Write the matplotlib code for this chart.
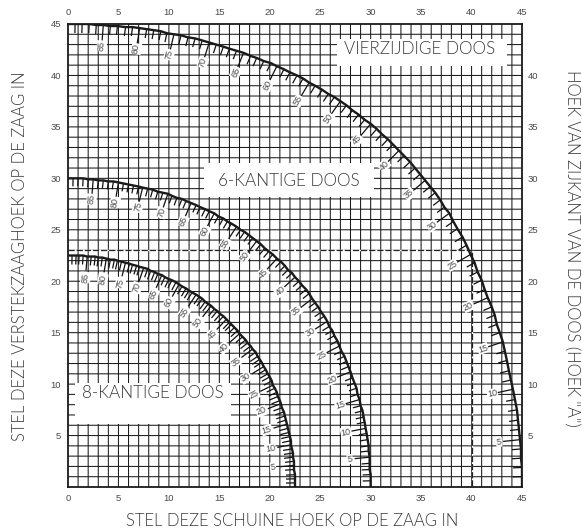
import matplotlib
matplotlib.use('Agg')
import matplotlib.pyplot as plt
from matplotlib.collections import LineCollection
from matplotlib.patches import Rectangle
import math

# tick positions for side angle 0..90, one per degree (estimates)
x_four = [45.0,45.0,45.0,44.9,44.9,44.8,44.7,44.6,44.5,44.3,44.1,43.9,43.7,43.5,43.3,43.1,42.8,42.5,42.3,42.0,41.6,
          41.3,41.0,40.6,40.3,39.9,39.5,39.1,38.6,38.2,37.8,37.3,36.9,36.4,35.9,35.4,34.9,34.4,33.9,33.3,32.8,
          32.2,31.7,31.1,30.6,30.0,29.4,28.8,28.2,27.6,27.0,26.4,25.8,25.2,24.5,23.9,23.3,22.7,22.0,21.4,20.7,
          20.1,19.4,18.7,18.1,17.4,16.7,16.0,15.4,14.7,14.0,13.3,12.6,11.9,11.2,10.5,9.8,9.2,8.5,7.8,7.1,
          6.4,5.7,4.9,4.2,3.5,2.8,2.1,1.4,0.7,0.0]
y_four = [0.0,1.0,1.9,2.8,3.7,4.6,5.6,6.5,7.5,8.5,9.5,10.4,11.3,12.3,13.2,14.1,15.0,15.8,16.7,17.5,18.4,
          19.2,20.1,20.9,21.8,22.6,23.5,24.3,25.1,25.8,26.6,27.2,27.9,28.6,29.2,29.8,30.4,31.0,31.6,32.2,32.7,
          33.3,33.8,34.3,34.8,35.3,35.7,36.2,36.6,37.1,37.5,37.9,38.2,38.6,39.0,39.3,39.7,40.0,40.3,40.6,40.9,
          41.2,41.4,41.7,41.9,42.2,42.4,42.6,42.8,43.0,43.2,43.4,43.6,43.7,43.9,44.0,44.1,44.3,44.4,44.5,44.6,
          44.7,44.7,44.8,44.8,44.9,44.9,45.0,45.0,45.0,45.0]
x_six = [30.0,30.0,30.0,29.9,29.9,29.9,29.8,29.8,29.7,29.6,29.5,29.4,29.3,29.2,29.0,28.9,28.7,28.6,28.4,28.2,28.0,
         27.8,27.6,27.4,27.1,26.9,26.7,26.4,26.2,25.9,25.7,25.4,25.1,24.8,24.5,24.2,23.9,23.6,23.2,22.9,22.5,
         22.2,21.8,21.5,21.1,20.7,20.3,19.9,19.5,19.1,18.7,18.3,17.9,17.5,17.1,16.7,16.2,15.8,15.4,14.9,14.5,
         14.0,13.6,13.1,12.7,12.2,11.7,11.3,10.8,10.3,9.9,9.4,8.9,8.4,7.9,7.4,7.0,6.5,6.0,5.5,5.0,
         4.5,4.0,3.5,3.0,2.5,2.0,1.5,1.0,0.5,0.0]
y_six = [0.0,0.6,1.2,1.7,2.3,2.9,3.5,4.0,4.6,5.2,5.7,6.3,6.8,7.4,7.9,8.5,9.0,9.6,10.1,10.6,11.2,
         11.7,12.2,12.7,13.2,13.7,14.2,14.7,15.2,15.6,16.1,16.6,17.0,17.5,17.9,18.3,18.8,19.2,19.6,20.0,20.4,
         20.8,21.1,21.5,21.9,22.2,22.6,22.9,23.2,23.6,23.9,24.2,24.5,24.8,25.0,25.3,25.6,25.8,26.1,26.3,26.6,
         26.8,27.0,27.2,27.4,27.6,27.8,28.0,28.1,28.3,28.5,28.6,28.7,28.9,29.0,29.1,29.2,29.3,29.4,29.5,29.6,
         29.7,29.7,29.8,29.8,29.9,29.9,30.0,30.0,30.0,30.0]
x_eight = [22.5,22.5,22.5,22.5,22.4,22.4,22.4,22.3,22.3,22.2,22.1,22.1,22.0,21.9,21.8,21.7,21.6,21.5,21.4,21.2,21.1,
           21.0,20.8,20.7,20.5,20.3,20.2,20.0,19.8,19.6,19.4,19.2,19.0,18.8,18.6,18.3,18.1,17.8,17.6,17.3,17.0,
           16.8,16.5,16.2,16.0,15.7,15.4,15.1,14.8,14.5,14.2,13.9,13.6,13.3,13.0,12.7,12.3,12.0,11.7,11.3,11.0,
           10.7,10.3,10.0,9.6,9.3,8.9,8.6,8.2,7.9,7.5,7.1,6.8,6.4,6.1,5.7,5.3,4.9,4.6,4.2,3.8,
           3.4,3.0,2.7,2.3,1.9,1.5,1.1,0.8,0.4,0.0]
y_eight = [0.0,0.4,0.8,1.2,1.7,2.1,2.5,2.9,3.3,3.7,4.1,4.5,4.9,5.3,5.7,6.1,6.5,6.9,7.3,7.7,8.1,
           8.4,8.8,9.2,9.6,9.9,10.3,10.7,11.0,11.4,11.7,12.1,12.4,12.7,13.1,13.4,13.7,14.0,14.3,14.6,14.9,
           15.2,15.5,15.8,16.0,16.3,16.6,16.8,17.1,17.3,17.6,17.8,18.0,18.3,18.5,18.7,18.9,19.1,19.3,19.5,19.7,
           19.9,20.1,20.2,20.4,20.6,20.7,20.9,21.0,21.2,21.3,21.4,21.5,21.6,21.7,21.8,21.9,22.0,22.1,22.1,22.2,
           22.3,22.3,22.4,22.4,22.4,22.5,22.5,22.5,22.5,22.5]
axis_ticks = [0, 5, 10, 15, 20, 25, 30, 35, 40, 45]
left_ticks = [5, 10, 15, 20, 25, 30, 35, 40, 45]
right_ticks = [5, 10, 15, 20, 25, 30, 35, 40]
dash_x = [0, 40, 40]
dash_y = [23.05, 23.05, 0]

W, H = 582, 531
L, R, T, B = 68, 522, 24, 487
grey = '#4a4a4a'
fig = plt.figure(figsize=(W/100, H/100), dpi=100)
ax = fig.add_axes([L/W, 1-B/H, (R-L)/W, (B-T)/H])
ax.set_xlim(0, 45)
ax.set_ylim(0, 45)
sx = (R-L)/45
sy = (B-T)/45

# grid, one line per unit
for i in range(1, 45):
    ax.axvline(i, color='#1a1a1a', lw=0.75, snap=False, zorder=1)
    ax.axhline(i, color='#1a1a1a', lw=0.75, snap=False, zorder=1)

def white_box(x0, y0, x1, y1):
    ax.add_patch(Rectangle(((x0-L)/sx, (B-y1)/sy), (x1-x0)/sx, (y1-y0)/sy, fc='white', ec='none', zorder=2))

white_box(337, 39, 507, 66)
white_box(204, 163, 374, 197)
white_box(75, 383, 231, 424)

ax.plot(dash_x, dash_y, color='white', lw=1.0, zorder=3)
ax.plot(dash_x, dash_y, color='#222222', lw=0.9, dashes=(5, 1.5), zorder=3)

def draw_curve(xs, ys, short, long, lab):
    ax.plot(xs, ys, color='#1a1a1a', lw=1.7, zorder=5, solid_capstyle='butt')
    segs = []
    for a in range(1, 90):
        px, py = xs[a]*sx, ys[a]*sy
        r = math.hypot(px, py)
        n = long if a % 5 == 0 else short
        x2 = (px - n*px/r)/sx
        y2 = (py - n*py/r)/sy
        segs.append([(xs[a], ys[a]), (x2, y2)])
    ax.add_collection(LineCollection(segs, colors='#111111', linewidths=0.9, zorder=4))
    for a in range(5, 90, 5):
        px, py = xs[a]*sx, ys[a]*sy
        r = math.hypot(px, py)
        ang = math.degrees(math.atan2(py, px))
        ax.text((px - lab*px/r)/sx, (py - lab*py/r)/sy, str(a), fontsize=6.5, color=grey,
                family='Liberation Sans', rotation=ang, ha='center', va='center', rotation_mode='anchor',
                bbox=dict(fc='white', ec='none', pad=0.4), zorder=6)

draw_curve(x_four, y_four, 9, 17, 21)
draw_curve(x_six, y_six, 8, 15, 20)
draw_curve(x_eight, y_eight, 9, 14, 21)

for s in ax.spines.values():
    s.set_linewidth(1.3)
    s.set_color('#1a1a1a')
    s.set_zorder(7)

ax.set_xticks(axis_ticks)
ax.set_yticks(left_ticks)
ax.tick_params(axis='x', length=0, pad=5, labelsize=6.8, labelcolor=grey, top=False, labeltop=True, labelbottom=True)
ax.tick_params(axis='y', length=0, pad=5, labelsize=6.8, labelcolor=grey)
right = ax.twinx()
right.set_ylim(0, 45)
right.set_yticks(right_ticks)
right.tick_params(axis='y', length=0, pad=4, labelsize=6.8, labelcolor=grey)
for s in right.spines.values():
    s.set_visible(False)
for t in ax.get_xticklabels() + ax.get_yticklabels() + right.get_yticklabels():
    t.set_family('Liberation Sans')

big = dict(family='Lato', fontweight=300, color='#3a3a3a', ha='center', va='center')
fig.text(420/W, 1-49/H, 'VIERZIJDIGE DOOS', fontsize=12.3, **big)
fig.text(289/W, 1-181/H, '6-KANTIGE DOOS', fontsize=12.3, **big)
fig.text(153/W, 1-393/H, '8-KANTIGE DOOS', fontsize=12.3, **big)
fig.text(292/W, 1-521/H, 'STEL DEZE SCHUINE HOEK OP DE ZAAG IN', fontsize=12, **big)
fig.text(20/W, 1-256/H, 'STEL DEZE VERSTEKZAAGHOEK OP DE ZAAG IN', fontsize=12, rotation=90, **big)
fig.text(572/W, 1-248/H, 'HOEK VAN ZIJKANT VAN DE DOOS (HOEK "A")', fontsize=12, rotation=-90, **big)

fig.savefig('out.png', dpi=100)
